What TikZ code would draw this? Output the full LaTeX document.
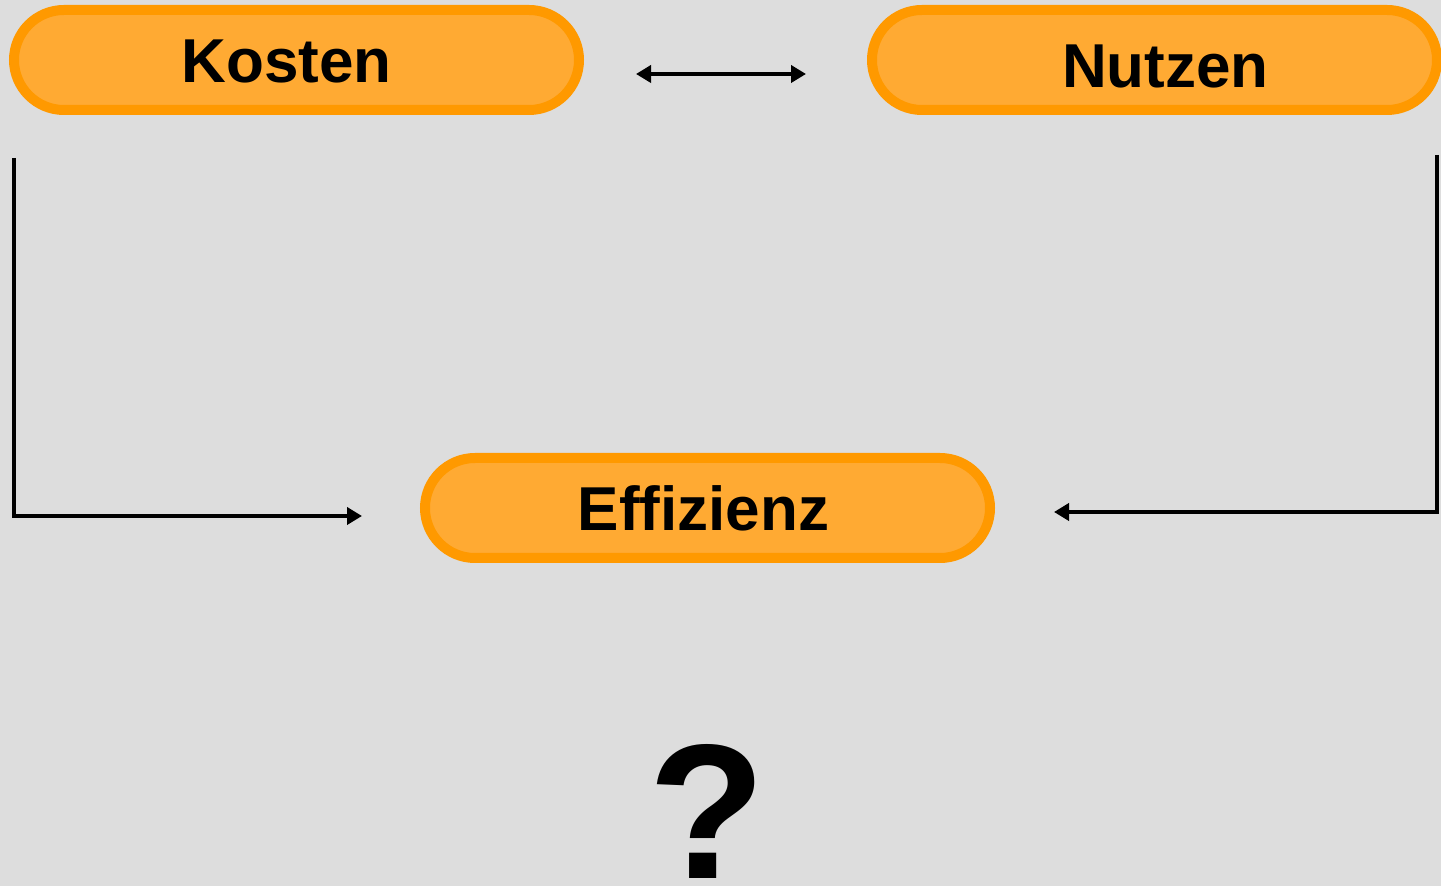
\documentclass[tikz,border=0pt]{standalone}
\usepackage{fontspec}
\setmainfont{Liberation Sans}
\usetikzlibrary{arrows.meta,shapes.misc}

\definecolor{pillline}{HTML}{FF9900}
\definecolor{pillfill}{HTML}{FFAA33}
\definecolor{bg}{HTML}{DDDDDD}

\begin{document}
\begin{tikzpicture}[x=0.5pt,y=-0.5pt,
  pill/.style={rounded rectangle,draw=pillline,fill=pillfill,line width=5pt,
    minimum width=286.5pt,minimum height=50pt,inner sep=2pt,
    text height=23pt,text depth=0pt,
    font=\fontsize{31}{36}\selectfont\bfseries},
  link/.style={line width=1.9pt,-{Triangle[length=7.5pt,width=8.5pt]}}]

  \fill[bg] (0,0) rectangle (1441,886);
  \useasboundingbox (0,0) rectangle (1441,886);

  \node[pill] (kosten) at (296.5,60) {Kosten\hspace*{10pt}};
  \node[pill] (nutzen) at (1154.5,60) {\hspace*{11pt}\raisebox{-2.5pt}{Nutzen}};
  \node[pill] (eff) at (707.5,508) {Effizienz\hspace*{4pt}};
  \node[anchor=base,inner sep=0pt,font=\fontsize{96}{100}\selectfont\bfseries] (frage) at (707,878) {?};

  \coordinate (kn1) at (636,74);
  \coordinate (kn2) at (806,74);
  \coordinate (kdown) at (14,158);
  \coordinate (kin) at (362,516);
  \coordinate (ndown) at (1437,155);
  \coordinate (nin) at (1054,512);

  \draw[link,{Triangle[length=7.5pt,width=8.5pt]}-{Triangle[length=7.5pt,width=8.5pt]}] (kn1) -- (kn2);
  \draw[link] (kdown) |- (kin);
  \draw[link] (ndown) |- (nin);
\end{tikzpicture}
\end{document}
